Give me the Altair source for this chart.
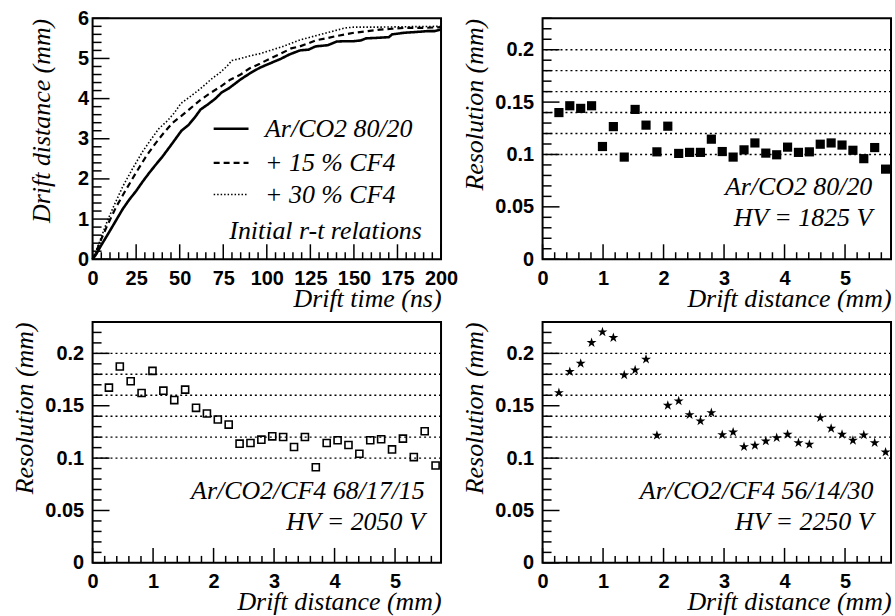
import altair as alt
import pandas as pd

# ---- r-t relations (drift time in ns -> drift distance in mm) ----
t_ar = [0, 2, 5, 9.7, 13.5, 17.3, 21, 25, 28.7, 32.5, 36, 40, 46, 51, 55, 59, 62, 66, 70.5, 74,
        78, 82, 85, 90, 96, 102, 108, 113, 119, 124, 128, 135, 140, 145, 150, 154, 157, 162, 166,
        170, 172, 179, 186, 192, 196, 200]
d_ar = [0, 0.12, 0.35, 0.69, 0.97, 1.25, 1.48, 1.7, 1.93, 2.15, 2.34, 2.55, 2.9, 3.2, 3.34, 3.55,
        3.73, 3.85, 4.0, 4.15, 4.25, 4.38, 4.48, 4.62, 4.77, 4.88, 4.99, 5.1, 5.2, 5.22, 5.3, 5.33,
        5.42, 5.43, 5.43, 5.45, 5.5, 5.51, 5.52, 5.53, 5.6, 5.64, 5.66, 5.68, 5.68, 5.72]

t_cf15 = [0, 2, 5, 8, 13.5, 19, 25, 31, 36, 40, 46, 51, 56, 62, 68, 73.5, 79, 85, 90, 96, 102,
          108, 114, 119, 124, 128, 134, 139, 145, 150, 158, 165, 172, 179, 190, 200]
d_cf15 = [0, 0.18, 0.5, 0.8, 1.3, 1.72, 2.16, 2.58, 2.88, 3.1, 3.4, 3.57, 3.75, 3.97, 4.15, 4.3,
          4.47, 4.6, 4.75, 4.87, 5.0, 5.12, 5.25, 5.3, 5.38, 5.45, 5.5, 5.55, 5.6, 5.64, 5.68, 5.72,
          5.74, 5.76, 5.76, 5.78]

t_cf30 = [0, 2, 5, 8, 11.6, 17.3, 23, 28.7, 33, 38, 43, 47, 50.7, 56, 62, 68, 73.5, 77, 80, 85,
          90, 96, 102, 108, 114, 119, 125, 131, 138, 145, 150, 165, 180, 200]
d_cf30 = [0, 0.2, 0.55, 0.9, 1.27, 1.81, 2.26, 2.68, 2.95, 3.25, 3.45, 3.65, 3.88, 4.05, 4.25,
          4.48, 4.66, 4.8, 4.95, 5.0, 5.06, 5.12, 5.2, 5.28, 5.38, 5.46, 5.53, 5.6, 5.68, 5.76,
          5.78, 5.78, 5.79, 5.8]

# ---- resolution vs drift distance (0.18 mm bins) ----
dist = [0.27, 0.45, 0.63, 0.81, 0.99, 1.17, 1.35, 1.53, 1.71, 1.89, 2.07, 2.25, 2.43, 2.61,
        2.79, 2.97, 3.15, 3.33, 3.51, 3.69, 3.87, 4.05, 4.23, 4.41, 4.59, 4.77, 4.95, 5.13,
        5.31, 5.49, 5.67]
res_ar = [0.140, 0.1465, 0.144, 0.1465, 0.1076, 0.1266, 0.0975, 0.143, 0.128, 0.1025, 0.127,
          0.101, 0.102, 0.102, 0.1146, 0.1028, 0.0975, 0.1044, 0.111, 0.1013, 0.0997, 0.107,
          0.102, 0.1025, 0.1098, 0.111, 0.109, 0.104, 0.096, 0.1066, 0.086]
res_cf15 = [0.1673, 0.1875, 0.1734, 0.1622, 0.1833, 0.1644, 0.1554, 0.1654, 0.148, 0.1426,
            0.1369, 0.132, 0.1138, 0.1144, 0.1176, 0.1208, 0.1202, 0.1106, 0.1202, 0.0913,
            0.1144, 0.117, 0.1125, 0.1042, 0.117, 0.118, 0.1083, 0.1186, 0.101, 0.1256, 0.093]
res_cf30 = [0.1624, 0.1825, 0.1904, 0.2102, 0.2204, 0.215, 0.1793, 0.1841, 0.1943, 0.1217,
            0.1503, 0.1545, 0.1414, 0.1354, 0.1433, 0.1223, 0.1248, 0.1108, 0.1121, 0.1162,
            0.1194, 0.1226, 0.1146, 0.1131, 0.1385, 0.1283, 0.1226, 0.1169, 0.122, 0.1146, 0.1057]

# ---- axis ticks / labels ----
time_labels = [0, 25, 50, 75, 100, 125, 150, 175, 200]
time_minor = [v for v in range(0, 201, 5) if v % 25]
rt_dist_labels = [0, 1, 2, 3, 4, 5, 6]
rt_dist_minor = [round(i * 0.2, 2) for i in range(31) if i % 5]
dist_labels = [0, 1, 2, 3, 4, 5]
dist_minor = [round(i * 0.2, 2) for i in range(29) if i % 5]
res_labels = [0, 0.05, 0.1, 0.15, 0.2]
res_minor = [round(i * 0.01, 2) for i in range(24) if i % 5]
res_grid = [0.10, 0.12, 0.14, 0.16, 0.18, 0.20]

# ---- text ----
legend_names = ["Ar/CO2 80/20", "+ 15 % CF4", "+ 30 % CF4"]
legend_y = [3.25, 2.4, 1.61]
legend_dash = [[1, 0], [6, 4], [1.5, 2]]
legend_width = [2.6, 2.2, 1.6]

W, H = 350, 242
TICK_FONT = "Liberation Sans"
TEXT_FONT = "Liberation Serif"
TEXT_SIZE = 26
DIST_MAX = 5.76
RES_MAX = 0.23
VBAR = "M0,-1L0,1"
HBAR = "M-1,0L1,0"


def x_axis(title, values, fmt):
    return alt.Axis(values=values, title=title, format=fmt, domain=False, ticks=False, tickSize=0,
                    grid=False, labelFont=TICK_FONT, labelFontSize=20, labelFontWeight="bold",
                    labelColor="black", labelPadding=9, labelFlush=False, labelOverlap=False,
                    titleFont=TEXT_FONT, titleFontSize=TEXT_SIZE, titleFontStyle="italic",
                    titleFontWeight="normal", titleColor="black", titleAlign="right",
                    titleX=W, titleY=47, titleBaseline="alphabetic")


def y_axis(title, values, fmt, pad, title_x):
    return alt.Axis(values=values, title=title, format=fmt, domain=False, ticks=False, tickSize=0,
                    grid=False, labelFont=TICK_FONT, labelFontSize=20, labelFontWeight="bold",
                    labelColor="black", labelPadding=pad, labelFlush=False, labelOverlap=False,
                    titleFont=TEXT_FONT, titleFontSize=TEXT_SIZE, titleFontStyle="italic",
                    titleFontWeight="normal", titleColor="black", titleAngle=-90,
                    titleAlign="right", titleBaseline="middle", titleX=title_x, titleY=0)


class Frame:
    """Shared scales and axes for one panel."""

    def __init__(self, xdom, ydom, xaxis, yaxis):
        self.xdom, self.ydom = xdom, ydom
        self.xs = alt.Scale(domain=xdom, nice=False, zero=False)
        self.ys = alt.Scale(domain=ydom, nice=False, zero=False)
        self.xa = xaxis
        self.ya = yaxis

    def x(self, field):
        return alt.X(field, type="quantitative", scale=self.xs, axis=self.xa)

    def y(self, field):
        return alt.Y(field, type="quantitative", scale=self.ys, axis=self.ya)


def tick_layers(f, x_major, x_minor, y_major, y_minor):
    """Inward ticks drawn as short bar symbols hugging the bottom and left frame edges."""
    layers = []
    y_per_px = (f.ydom[1] - f.ydom[0]) / H
    x_per_px = (f.xdom[1] - f.xdom[0]) / W
    for name, vals, size in (("xmaj", x_major, 15), ("xmin", x_minor, 7)):
        df = pd.DataFrame({name: vals, name + "_at": [f.ydom[0] + size / 2 * y_per_px] * len(vals)})
        layers.append(alt.Chart(df).mark_point(
            shape=VBAR, size=size * size, filled=False, strokeWidth=1.5, color="black",
            opacity=1).encode(x=f.x(name), y=f.y(name + "_at")))
    for name, vals, size in (("ymaj", y_major, 17), ("ymin", y_minor, 9)):
        df = pd.DataFrame({name: vals, name + "_at": [f.xdom[0] + size / 2 * x_per_px] * len(vals)})
        layers.append(alt.Chart(df).mark_point(
            shape=HBAR, size=size * size, filled=False, strokeWidth=1.5, color="black",
            opacity=1).encode(y=f.y(name), x=f.x(name + "_at")))
    return layers


def text_layer(f, xs_vals, ys_vals, labels, align):
    df = pd.DataFrame({"tx": xs_vals, "ty": ys_vals, "label": labels})
    return alt.Chart(df).mark_text(align=align, baseline="middle", font=TEXT_FONT,
                                   fontStyle="italic", fontSize=TEXT_SIZE, color="black").encode(
        x=f.x("tx"), y=f.y("ty"), text="label:N")


# ---- panel 1: r-t relations ----
frt = Frame([0, 200], [0, 6],
            x_axis("Drift time (ns)", time_labels, "d"),
            y_axis("Drift distance (mm)", rt_dist_labels, "d", 4, -51))


def rt_line(t, d, dash, width):
    return alt.Chart(pd.DataFrame({"t": t, "d": d})).mark_line(
        color="black", strokeDash=dash, strokeWidth=width, interpolate="linear").encode(
        x=frt.x("t"), y=frt.y("d"))


rt_layers = [rt_line(t_ar, d_ar, [1, 0], 2.6)]
rt_layers += tick_layers(frt, time_labels, time_minor, rt_dist_labels, rt_dist_minor)
rt_layers += [rt_line(t_cf15, d_cf15, [6, 4], 2.2),
              rt_line(t_cf30, d_cf30, [1.5, 2], 1.6)]
for name, yv, dash, sw in zip(legend_names, legend_y, legend_dash, legend_width):
    rt_layers.append(alt.Chart(pd.DataFrame({"a": [69.5], "b": [89.5], "ly": [yv]})).mark_rule(
        color="black", strokeDash=dash, strokeWidth=sw).encode(
        x=frt.x("a"), x2="b", y=frt.y("ly")))
rt_layers.append(text_layer(frt, [99] * 3, legend_y, legend_names, "left"))
rt_layers.append(text_layer(frt, [189], [0.69], ["Initial r-t relations"], "right"))
panel_rt = alt.layer(*rt_layers).properties(width=W, height=H)

# ---- resolution panels ----
STAR = ("M0,-1L0.2245,-0.309L0.951,-0.309L0.363,0.118L0.588,0.809L0,0.382L-0.588,0.809"
        "L-0.363,0.118L-0.951,-0.309L-0.2245,-0.309Z")


def res_panel(values, mark, label_lines, text_x):
    f = Frame([0, DIST_MAX], [0, RES_MAX],
              x_axis("Drift distance (mm)", dist_labels, "d"),
              y_axis("Resolution (mm)", res_labels, "~g", 9, -68))
    df = pd.DataFrame({"dist": dist, "res": values})
    pts = alt.Chart(df).mark_point(**mark).encode(x=f.x("dist"), y=f.y("res"))
    ticks = tick_layers(f, dist_labels, dist_minor, res_labels, res_minor)
    grid = alt.Chart(pd.DataFrame({"g": res_grid})).mark_rule(
        color="black", strokeDash=[2, 3], strokeWidth=1.4).encode(y=f.y("g"))
    txt = text_layer(f, [text_x] * 2, [0.0685, 0.039], label_lines, "right")
    return alt.layer(pts, *ticks, grid, txt).properties(width=W, height=H)


panel_ar = res_panel(res_ar, dict(shape="square", filled=True, size=85, color="black", opacity=1),
                     ["Ar/CO2 80/20", "HV = 1825 V"], 5.45)
panel_cf15 = res_panel(res_cf15, dict(shape="square", filled=False, size=50, strokeWidth=1.6,
                                      color="black", opacity=1),
                       ["Ar/CO2/CF4 68/17/15", "HV = 2050 V"], 5.49)
panel_cf30 = res_panel(res_cf30, dict(shape=STAR, filled=True, size=110, color="black", opacity=1),
                       ["Ar/CO2/CF4 56/14/30", "HV = 2250 V"], 5.47)

chart = alt.concat(panel_rt, panel_ar, panel_cf15, panel_cf30, columns=2,
                   spacing=alt.RowColnumber(row=63, column=102), bounds="flush").properties(
    padding={"left": 10, "top": 6, "right": 2, "bottom": 0},
    background="white",
).configure_view(stroke="black", strokeWidth=2)

chart.save("out.html", embed_options={"renderer": "svg", "actions": False})
